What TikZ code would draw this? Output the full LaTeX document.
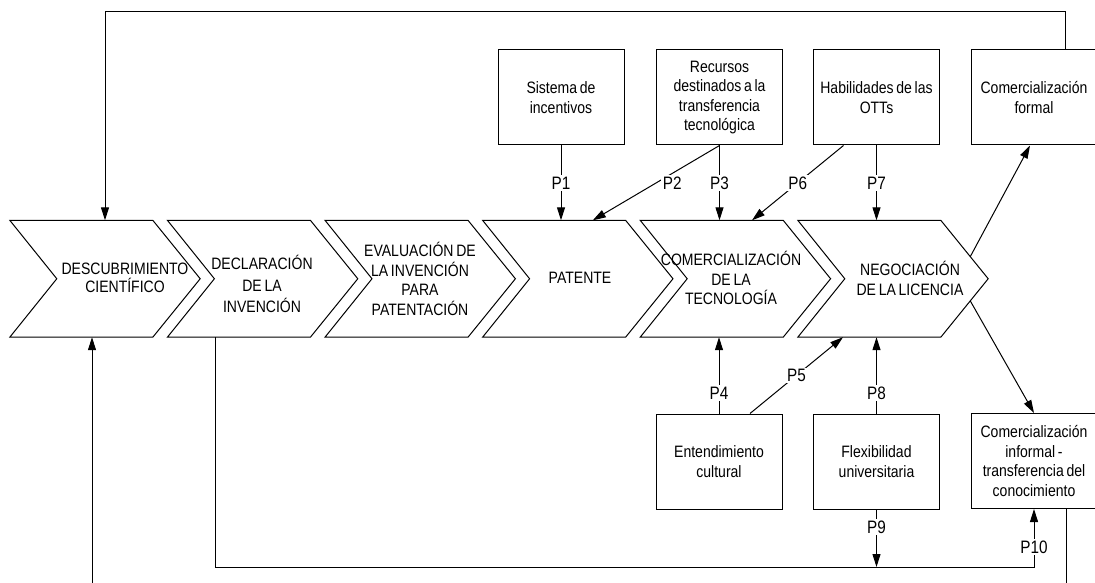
\documentclass[tikz,border=0pt]{standalone}
\usepackage{fontspec}
\setmainfont{Liberation Sans}[FakeStretch=0.85, WordSpace=0.7]
\usetikzlibrary{arrows.meta}

\begin{document}
\begin{tikzpicture}[x=1pt,y=-1pt,
  every node/.style={font=\fontsize{16.5}{19.5}\selectfont, align=center, inner sep=0pt},
  chev/.style={minimum width=190pt, minimum height=116.5pt, draw=none},
  box/.style={draw, line width=1pt, minimum width=126pt, minimum height=95pt},
  conn/.style={line width=1pt},
  arr/.style={line width=1pt, -{Triangle[length=13pt,width=8pt]}},
  plbl/.style={fill=white, inner sep=1.5pt, font=\fontsize{18}{20}\selectfont},
]
\useasboundingbox (0,0) rectangle (1095,583);
\fill[white] (0,0) rectangle (1095,583);
\clip (0,0) rectangle (1095,583);

% process stages (chevrons)
\foreach \i/\cx in {1/105,2/262.6,3/420.2,4/577.8,5/735.4,6/893}
  \node[chev] (ch\i) at (\cx,278.75) {};
\foreach \i in {1,...,6}
  \draw[conn] (ch\i.north west) -- ([shift={(143,0)}]ch\i.north west)
    -- (ch\i.east) -- ([shift={(143,0)}]ch\i.south west)
    -- (ch\i.south west) -- ([shift={(47,0)}]ch\i.west) -- cycle;

\node[font=\fontsize{16.5}{18}\selectfont] (t1) at (125,278) {DESCUBRIMIENTO\\CIENTÍFICO};
\node[font=\fontsize{16.5}{21.5}\selectfont] (t2) at (262,284) {DECLARACIÓN\\DE LA\\INVENCIÓN};
\node (t3) at (420,279) {EVALUACIÓN DE\\LA INVENCIÓN\\PARA\\PATENTACIÓN};
\node (t4) at (580,278) {PATENTE};
\node (t5) at (731,278) {COMERCIALIZACIÓN\\DE LA\\TECNOLOGÍA};
\node[font=\fontsize{16.5}{20}\selectfont] (t6) at (910,278) {NEGOCIACIÓN\\DE LA LICENCIA};

% factor boxes
\node[box] (ta) at (561,97.5) {Sistema de\\incentivos};
\node[box] (tb) at (719.5,97.5) {Recursos\\destinados a la\\transferencia\\tecnológica};
\node[box] (tc) at (876.5,97.5) {Habilidades de las\\OTTs};
\node[box] (td) at (1034,97.5) {Comercialización\\formal};
\node[box] (ba) at (719,461.5) {Entendimiento\\cultural};
\node[box] (bb) at (876.5,461.5) {Flexibilidad\\universitaria};
\node[box] (bc) at (1034,461) {Comercialización\\informal -\\transferencia del\\conocimiento};

% feedback loops
\coordinate (fr) at (1065,12);
\coordinate (fl) at (105,12);
\draw[arr] (td.north -| fr) -- (fr) -- (fl) -- (fl |- ch1.north);
\coordinate (gr) at (1066,600);
\coordinate (gl) at (92,600);
\draw[arr] (bc.south -| gr) -- (gr) -- (gl) -- (gl |- ch1.south);

% propositions
\draw[arr] (ta.south) -- (ta.south |- ch4.north) node[plbl,midway] {P1};
\draw[arr] (tb.south) -- ([shift={(15,0)}]ch4.north) node[plbl,pos=0.5,xshift=16pt] {P2};
\draw[arr] (tb.south) -- (tb.south |- ch5.north) node[plbl,midway] {P3};
\draw[arr] ([shift={(-33,0)}]tc.south) -- ([shift={(16.6,0)}]ch5.north) node[plbl,midway] {P6};
\draw[arr] (tc.south) -- (tc.south |- ch6.north) node[plbl,midway] {P7};

\draw[arr] (ba.north) -- (ba.north |- ch5.south) node[plbl,pos=0.27] {P4};
\draw[arr] ([shift={(31,0)}]ba.north) -- ([shift={(-50,0)}]ch6.south) node[plbl,midway] {P5};
\draw[arr] (bb.north) -- (bb.north |- ch6.south) node[plbl,pos=0.27] {P8};

\coordinate (bl) at (215,567);
\coordinate (br) at (1034,567);
\draw[arr] (bb.south) -- (bb.south |- bl) node[plbl,pos=0.31] {P9};
\draw[arr] (ch2.south -| bl) -- (bl) -- (br) -- (bc.south) node[plbl,pos=0.34] {P10};

% commercialisation outcomes
\draw[arr] ([shift={(-18,-22)}]ch6.east) -- ([shift={(-4,0)}]td.south);
\draw[arr] ([shift={(-18,22)}]ch6.east) -- (bc.north);
\end{tikzpicture}
\end{document}
